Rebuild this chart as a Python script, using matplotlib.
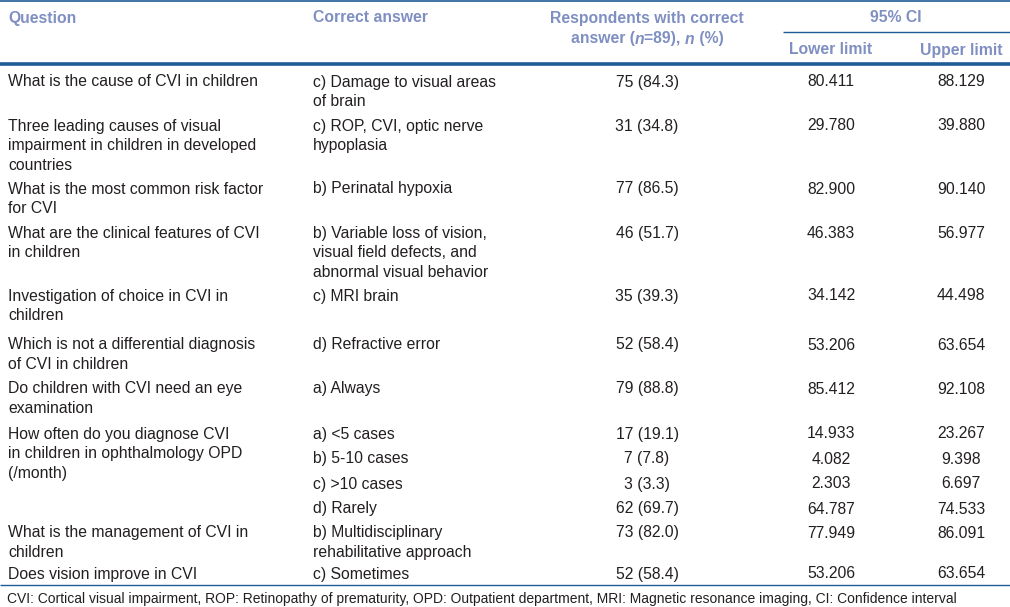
import matplotlib
matplotlib.use("Agg")
import matplotlib.pyplot as plt
from matplotlib.lines import Line2D

plt.rcParams['font.family'] = ['Liberation Sans', 'DejaVu Sans']

# ---------------- data ----------------
questions = [
    "What is the cause of CVI in children",
    "Three leading causes of visual\nimpairment in children in developed\ncountries",
    "What is the most common risk factor\nfor CVI",
    "What are the clinical features of CVI\nin children",
    "Investigation of choice in CVI in\nchildren",
    "Which is not a differential diagnosis\nof CVI in children",
    "Do children with CVI need an eye\nexamination",
    "How often do you diagnose CVI\nin children in ophthalmology OPD\n(/month)",
    "What is the management of CVI in\nchildren",
    "Does vision improve in CVI",
]
answers = [
    ["c) Damage to visual areas\nof brain"],
    ["c) ROP, CVI, optic nerve\nhypoplasia"],
    ["b) Perinatal hypoxia"],
    ["b) Variable loss of vision,\nvisual field defects, and\nabnormal visual behavior"],
    ["c) MRI brain"],
    ["d) Refractive error"],
    ["a) Always"],
    ["a) <5 cases", "b) 5-10 cases", "c) >10 cases", "d) Rarely"],
    ["b) Multidisciplinary\nrehabilitative approach"],
    ["c) Sometimes"],
]
n_correct = [[75], [31], [77], [46], [35], [52], [79], [17, 7, 3, 62], [73], [52]]
pct_correct = [[84.3], [34.8], [86.5], [51.7], [39.3], [58.4], [88.8],
               [19.1, 7.8, 3.3, 69.7], [82.0], [58.4]]
ci_lower = [[80.411], [29.780], [82.900], [46.383], [34.142], [53.206], [85.412],
            [14.933, 4.082, 2.303, 64.787], [77.949], [53.206]]
ci_upper = [[88.129], [39.880], [90.140], [56.977], [44.498], [63.654], [92.108],
            [23.267, 9.398, 6.697, 74.533], [86.091], [63.654]]
footnote = ("CVI: Cortical visual impairment, ROP: Retinopathy of prematurity, "
            "OPD: Outpatient department, MRI: Magnetic resonance imaging, CI: Confidence interval")

# ---------------- layout ----------------
W, H = 1010, 607
fig = plt.figure(figsize=(W / 100, H / 100), dpi=100)
fig.patch.set_facecolor('white')

HEAD = '#7f8fc2'
TXT = '#231f20'
LINE = '#1f5b96'
FS = 11.3
HFS = 11.3
BASE = 5.5  # px from visual centre to baseline

def fx(x):
    return x / W

def fy(y):
    return 1 - y / H

def hline(y, x0, x1, lw):
    fig.add_artist(Line2D([fx(x0), fx(x1)], [fy(y), fy(y)], color=LINE, lw=lw,
                          transform=fig.transFigure, solid_capstyle='butt'))

def text(x, y, s, ha='left', color=TXT, weight='normal', style='normal', size=FS):
    return fig.text(fx(x), fy(y + BASE * size / FS), s, ha=ha, va='baseline',
                    color=color, fontsize=size, fontweight=weight, fontstyle=style)

def lines(x, y, s, step, **kw):
    for k, part in enumerate(s.split("\n")):
        text(x, y + k * step, part, **kw)

def segments(xc, y, segs, color=HEAD, weight='bold'):
    r = fig.canvas.get_renderer()
    arts = []
    for s, st in segs:
        t = fig.text(0, fy(y + BASE), s, ha='left', va='baseline', color=color,
                     fontsize=HFS, fontweight=weight, fontstyle=st)
        arts.append(t)
    widths = [a.get_window_extent(renderer=r).width for a in arts]
    total = sum(widths)
    x = xc - total / 2
    for a, w in zip(arts, widths):
        a.set_x(fx(x))
        x += w

X_Q, X_A, X_N, X_L, X_U = 8, 313, 647, 831, 961

# header
hline(0.8, 0, W, 1.2)
text(X_Q, 17, "Question", color=HEAD, weight='bold', size=HFS)
text(X_A, 17, "Correct answer", color=HEAD, weight='bold', size=HFS)
text(X_N, 17, "Respondents with correct", ha='center', color=HEAD, weight='bold', size=HFS)
segments(X_N, 38, [("answer (", 'normal'), ("n", 'italic'), ("=89), ", 'normal'),
                   ("n", 'italic'), (" (%)", 'normal')])
text(896, 17, "95% CI", ha='center', color=HEAD, weight='bold', size=HFS)
hline(32, 783, W, 1.0)
text(X_L, 49, "Lower limit", ha='center', color=HEAD, weight='bold', size=HFS)
text(X_U, 49, "Upper limit", ha='center', color=HEAD, weight='bold', size=HFS)
hline(64, 0, W, 2.6)

# body
row_y = [81, 125, 188, 232, 295, 344, 388, 433, 532, 573]
LINE_H = 19.6
SUB_H = 25

for i, q in enumerate(questions):
    y0 = row_y[i]
    lines(X_Q, y0, q, LINE_H)
    for j, a in enumerate(answers[i]):
        ya = y0 + j * SUB_H
        lines(X_A, ya, a, LINE_H)
        text(X_N, ya, f"{n_correct[i][j]} ({pct_correct[i][j]:.1f})", ha='center')
        text(X_L, ya, f"{ci_lower[i][j]:.3f}", ha='center')
        text(X_U, ya, f"{ci_upper[i][j]:.3f}", ha='center')

hline(585, 0, W, 1.0)
text(7, 598, footnote, size=10.0)

fig.savefig("out.png", dpi=100, facecolor='white')
